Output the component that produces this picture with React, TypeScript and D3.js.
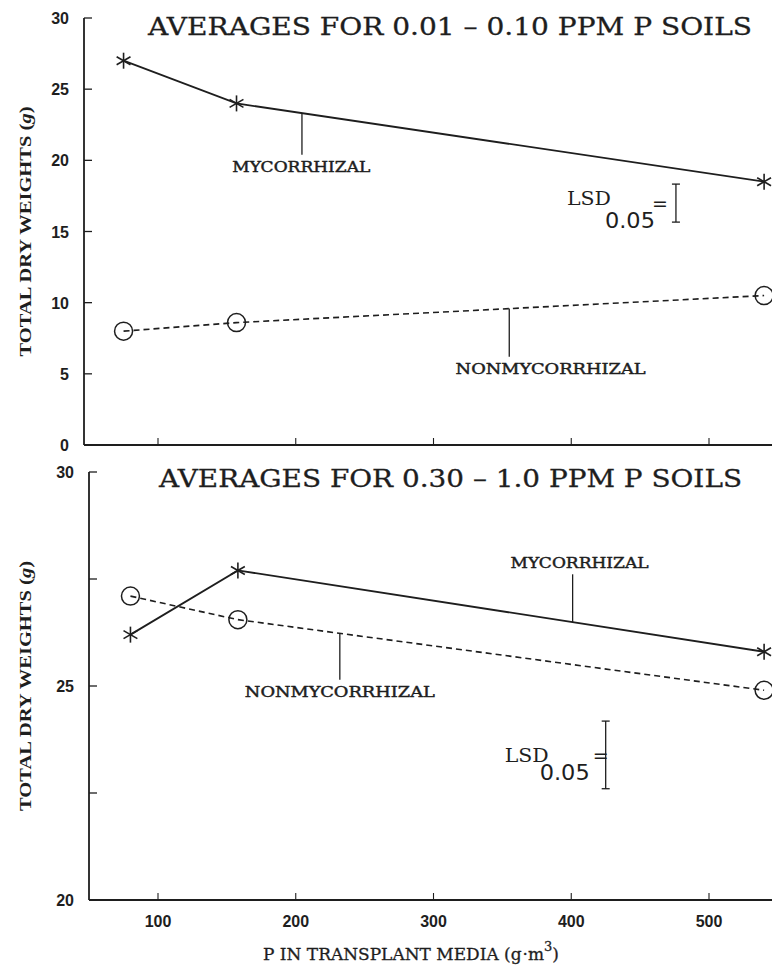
import React from "react";
import * as d3 from "d3";

const W = 772;
const H = 968;

// X values (P in transplant media, g.m3)
const topX = [75, 157, 540];
const topMyc = [27, 24, 18.5];
const topNon = [8, 8.6, 10.5];

const botX = [80, 158, 540];
const botMyc = [26.2, 27.7, 25.8];
const botNon = [27.1, 26.55, 24.9];

const xTicks = [100, 200, 300, 400, 500];
const topYTicks = [0, 5, 10, 15, 20, 25, 30];
const botYTicks = [20, 22.5, 25, 27.5, 30];
const botYLabels = [20, 25, 30];

// LSD bars: [x, low, high]
const topLsd = [476, 15.66, 18.33];
const botLsd = [425, 22.6, 24.18];

const topTitle = "AVERAGES FOR 0.01 \u2013 0.10 PPM P SOILS";
const botTitle = "AVERAGES FOR 0.30 \u2013 1.0 PPM P SOILS";

const INK = "#1e1e1e";

const x = d3.scaleLinear().domain([100, 500]).range([158, 709]);
const yTop = d3.scaleLinear().domain([0, 30]).range([445, 18]);
const yBot = d3.scaleLinear().domain([20, 30]).range([900, 472]);

function interp(xs: number[], ys: number[], v: number) {
  for (let i = 0; i < xs.length - 1; i++) {
    if (v >= xs[i] && v <= xs[i + 1]) {
      const t = (v - xs[i]) / (xs[i + 1] - xs[i]);
      return ys[i] + t * (ys[i + 1] - ys[i]);
    }
  }
  return ys[ys.length - 1];
}

function Star({ cx, cy }: { cx: number; cy: number }) {
  const r = 8;
  const angles = [90, 30, -30];
  return (
    <g stroke={INK} strokeWidth={1.6}>
      {angles.map((a) => {
        const rad = (a * Math.PI) / 180;
        const dx = r * Math.cos(rad);
        const dy = r * Math.sin(rad);
        return <line key={a} x1={cx - dx} y1={cy - dy} x2={cx + dx} y2={cy + dy} />;
      })}
    </g>
  );
}

function Lsd({ px, y0, y1, yScale, off }: any) {
  const X = x(px);
  const a = yScale(y1);
  const b = yScale(y0);
  const mid = (a + b) / 2;
  return (
    <g fill={INK}>
      <line x1={X} x2={X} y1={a} y2={b} stroke={INK} strokeWidth={1.3} />
      <line x1={X - 4} x2={X + 4} y1={a} y2={a} stroke={INK} strokeWidth={1.3} />
      <line x1={X - 4} x2={X + 4} y1={b} y2={b} stroke={INK} strokeWidth={1.3} />
      <text x={X + off[0]} y={mid + off[1]} fontFamily="DejaVu Serif" fontSize={19} textLength={44} lengthAdjust="spacingAndGlyphs">LSD</text>
      <text x={X + off[2]} y={mid + 25} fontFamily="DejaVu Sans" fontSize={21} textLength={50} lengthAdjust="spacingAndGlyphs">0.05</text>
      <text x={X + off[3]} y={mid + 7} fontFamily="DejaVu Sans" fontSize={19}>=</text>
    </g>
  );
}

function Panel({
  xs, myc, non, yScale, yTicks, yLabels, axisX, title, titleY, titleX, titleLen,
  lsd, lsdOff, mycLab, nonLab, showXLabels,
}: any) {
  const [y0, y1] = yScale.domain();
  const bottom = yScale(y0);
  const top = yScale(y1);
  const line = d3.line<number>().x((_, i) => x(xs[i])).y((d) => yScale(d));
  const tickLabelX = axisX - 15;
  const labels = (yLabels || yTicks) as number[];
  const yTitleMid = (top + bottom) / 2;
  return (
    <g>
      {/* axes */}
      <line x1={axisX} x2={axisX} y1={top} y2={bottom} stroke={INK} strokeWidth={1.8} />
      <line x1={axisX} x2={W} y1={bottom} y2={bottom} stroke={INK} strokeWidth={2.2} />
      {yTicks.map((t: number) => (
        <line key={t} x1={axisX} x2={axisX + 8} y1={yScale(t)} y2={yScale(t)} stroke={INK} strokeWidth={1.3} />
      ))}
      {labels.map((t: number) => (
        <text key={t} x={tickLabelX} y={yScale(t) + 6} textAnchor="end" fontFamily="Liberation Sans" fontWeight="bold" fontSize={16} fill={INK}>
          {t}
        </text>
      ))}
      {xTicks.map((t) => (
        <line key={t} x1={x(t)} x2={x(t)} y1={bottom} y2={bottom - 7} stroke={INK} strokeWidth={1.1} />
      ))}
      {showXLabels &&
        xTicks.map((t) => (
          <text key={t} x={x(t)} y={bottom + 27} textAnchor="middle" fontFamily="Liberation Sans" fontWeight="bold" fontSize={16} fill={INK}>
            {t}
          </text>
        ))}
      <text
        transform={`translate(31,${yTitleMid}) rotate(-90)`}
        textAnchor="middle"
        fontFamily="Liberation Serif"
        fontWeight="bold"
        fontSize={17}
        fill={INK}
        textLength={250}
        lengthAdjust="spacingAndGlyphs"
      >
        TOTAL DRY WEIGHTS (<tspan fontStyle="italic">g</tspan>)
      </text>
      <text x={titleX} y={titleY} fontFamily="DejaVu Serif" fontSize={25} fill={INK} stroke={INK} strokeWidth={0.3} textLength={titleLen} lengthAdjust="spacingAndGlyphs">
        {title}
      </text>
      {/* series */}
      <path d={line(myc) || ""} fill="none" stroke={INK} strokeWidth={1.8} />
      <path d={line(non) || ""} fill="none" stroke={INK} strokeWidth={1.6} strokeDasharray="6,4" />
      {myc.map((d: number, i: number) => (
        <Star key={i} cx={x(xs[i])} cy={yScale(d)} />
      ))}
      {non.map((d: number, i: number) => (
        <circle key={i} cx={x(xs[i])} cy={yScale(d)} r={9} fill="none" stroke={INK} strokeWidth={1.5} />
      ))}
      {/* labels with leaders */}
      {[
        { lab: mycLab, ys: myc, text: "MYCORRHIZAL", len: 138 },
        { lab: nonLab, ys: non, text: "NONMYCORRHIZAL", len: 190 },
      ].map((o, k) => {
        const lv = o.lab[0];
        const ly = yScale(interp(xs, o.ys, lv));
        const ty = yScale(o.lab[1]);
        const end = ty < ly ? ty + 6 : ty - 17;
        return (
          <g key={k}>
            <line x1={x(lv)} x2={x(lv)} y1={ly} y2={end} stroke={INK} strokeWidth={1.3} />
            <text x={x(o.lab[2])} y={ty} textAnchor="middle" fontFamily="DejaVu Serif" fontSize={14.5} fill={INK} stroke={INK} strokeWidth={0.45} textLength={o.len} lengthAdjust="spacingAndGlyphs">
              {o.text}
            </text>
          </g>
        );
      })}
      <Lsd px={lsd[0]} y0={lsd[1]} y1={lsd[2]} yScale={yScale} off={lsdOff} />
    </g>
  );
}

export default function App() {
  return (
    <svg width={W} height={H} style={{ position: "absolute", left: 0, top: 0, background: "#fff" }}>
      <rect width={W} height={H} fill="#fff" />
      <Panel
        xs={topX}
        myc={topMyc}
        non={topNon}
        yScale={yTop}
        yTicks={topYTicks}
        yLabels={topYTicks}
        axisX={84}
        title={topTitle}
        titleX={148}
        titleY={35}
        titleLen={604}
        lsd={topLsd}
        lsdOff={[-109, 2, -71, -24]}
        mycLab={[204.5, 19.2, 204]}
        nonLab={[355, 5.0, 385]}
        showXLabels={false}
      />
      <Panel
        xs={botX}
        myc={botMyc}
        non={botNon}
        yScale={yBot}
        yTicks={botYTicks}
        yLabels={botYLabels}
        axisX={89}
        title={botTitle}
        titleX={159}
        titleY={487}
        titleLen={583}
        lsd={botLsd}
        lsdOff={[-101, 7, -66, -13]}
        mycLab={[401, 27.75, 406]}
        nonLab={[232, 24.75, 232]}
        showXLabels={true}
      />
      <text x={263} y={960} fontFamily="DejaVu Serif" fontSize={17} fill={INK} stroke={INK} strokeWidth={0.3} textLength={296} lengthAdjust="spacingAndGlyphs">
        P IN TRANSPLANT MEDIA (g<tspan dx={1}>{"\u00b7"}</tspan>m<tspan dy={-9} fontSize={13}>3</tspan><tspan dy={9}>)</tspan>
      </text>
    </svg>
  );
}
